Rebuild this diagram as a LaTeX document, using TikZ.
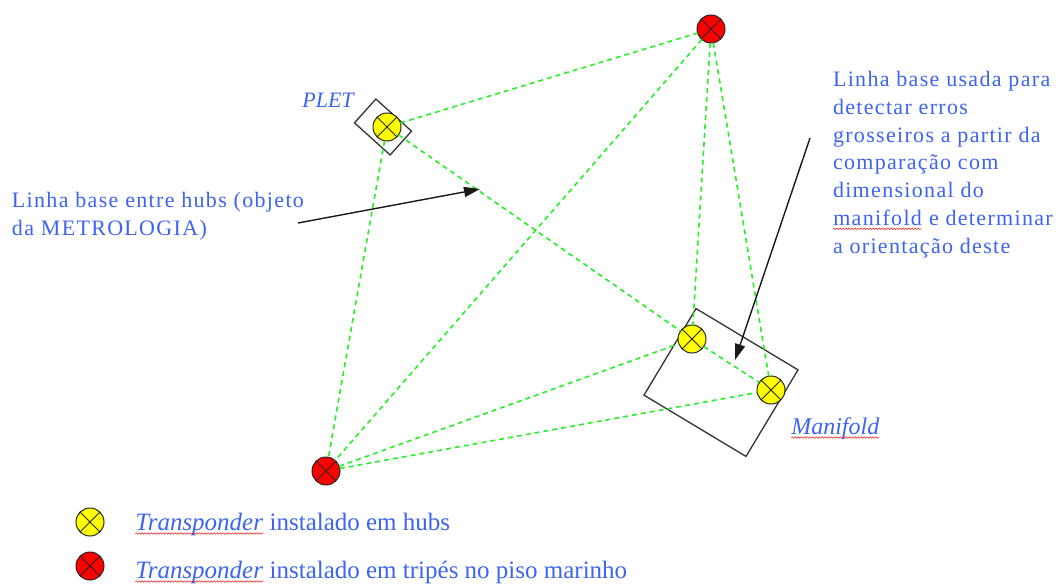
\documentclass[tikz,border=0pt]{standalone}
\usepackage{fontspec}
\setmainfont{Liberation Serif}
\newfontfamily\spacedserif[LetterSpace=6]{Liberation Serif}
\usetikzlibrary{arrows.meta,decorations.pathmorphing}
\definecolor{txtblue}{RGB}{60,100,240}
\definecolor{dgreen}{RGB}{40,240,40}
\definecolor{wavered}{RGB}{230,30,30}
\definecolor{tpyellow}{RGB}{255,255,0}
\definecolor{tpred}{RGB}{255,0,0}
\newcommand\redwave[1]{\tikz[baseline=(rw.base)]{\node[inner sep=0pt,outer sep=0pt] (rw) {#1};
  \draw[wavered, line width=0.5pt, decorate, decoration={snake, amplitude=0.8pt, segment length=3pt}]
    ([yshift=-3.5pt]rw.base west) -- ([yshift=-3.5pt]rw.base east);}}
\tikzset{
  tp/.style={circle, draw=black!85, line width=1pt, minimum size=28pt, inner sep=0pt, outer sep=0pt,
    path picture={\draw[black!85, line width=1pt]
      (path picture bounding box.north west) -- (path picture bounding box.south east)
      (path picture bounding box.north east) -- (path picture bounding box.south west);}},
  yeltp/.style={tp, fill=tpyellow},
  redtp/.style={tp, fill=tpred},
  dashlink/.style={draw=dgreen, line width=1.6pt, dash pattern=on 5pt off 4pt},
  boxframe/.style={draw=black!80, line width=1.3pt, inner sep=0pt, outer sep=0pt},
  pointer/.style={draw=black!90, line width=1.4pt, -{Triangle[length=16pt,width=10pt]}},
  lbl/.style={text=txtblue, inner sep=0pt, outer sep=0pt},
}
\begin{document}
\begin{tikzpicture}[x=1pt,y=-1pt]
\useasboundingbox (0,0) rectangle (1056,583);
% frames
\node[boxframe, rotate=-42, minimum width=48pt, minimum height=32pt] (pletbox) at (383,127) {};
\node[boxframe, rotate=-31, minimum width=119pt, minimum height=101pt] (manbox) at (721,382.5) {};
% transponders
\node[redtp] (top) at (711,29) {};
\node[yeltp] (plet) at (387,127) {};
\node[redtp] (bot) at (326,471) {};
\node[yeltp] (m1) at (692,339) {};
\node[yeltp] (m2) at (771,390) {};
% baselines
\draw[dashlink] (plet) -- (top);
\draw[dashlink] (plet) -- (bot);
\draw[dashlink] (plet) -- (m1);
\draw[dashlink] (m1) -- (m2);
\draw[dashlink] (top) -- (bot);
\draw[dashlink] (top) -- (m1);
\draw[dashlink] (top) -- (m2);
\draw[dashlink] (bot) -- (m1);
\draw[dashlink] (bot) -- (m2);
% labels
\node[lbl, font=\fontsize{22}{24}\selectfont\itshape, anchor=base] (pletlbl) at (328,108) {PLET};
\node[lbl, font=\fontsize{24}{26}\selectfont\itshape, anchor=base west] (manlbl) at (791,434) {\redwave{Manifold}};
\node[lbl, font=\spacedserif\fontsize{22}{28}\selectfont, align=left, anchor=base west] (lefttxt) at (12,235)
  {Linha base entre hubs (objeto\\da METROLOGIA)};
\node[lbl, font=\spacedserif\fontsize{22}{27.7}\selectfont, align=left, anchor=base west] (righttxt) at (833,253)
  {Linha base usada para\\detectar erros\\grosseiros a partir da\\compara\c{c}\~ao com\\dimensional do\\\redwave{manifold} e determinar\\a orienta\c{c}\~ao deste};
% arrows
\coordinate (a1s) at (298,223);
\coordinate (a1e) at (480,189);
\draw[pointer] (a1s) -- (a1e);
\coordinate (a2s) at (810,138);
\coordinate (a2e) at (735,360);
\draw[pointer] (a2s) -- (a2e);
% legend
\node[yeltp] (leg1) at (90,522) {};
\node[redtp] (leg2) at (90,566) {};
\node[lbl, font=\fontsize{25}{27}\selectfont, anchor=base west] (leg1txt) at (135,530)
  {\redwave{\textit{Transponder}} instalado em hubs};
\node[lbl, font=\fontsize{25}{27}\selectfont, anchor=base west] (leg2txt) at (135,578)
  {\redwave{\textit{Transponder}} instalado em trip\'es no piso marinho};
\end{tikzpicture}
\end{document}
